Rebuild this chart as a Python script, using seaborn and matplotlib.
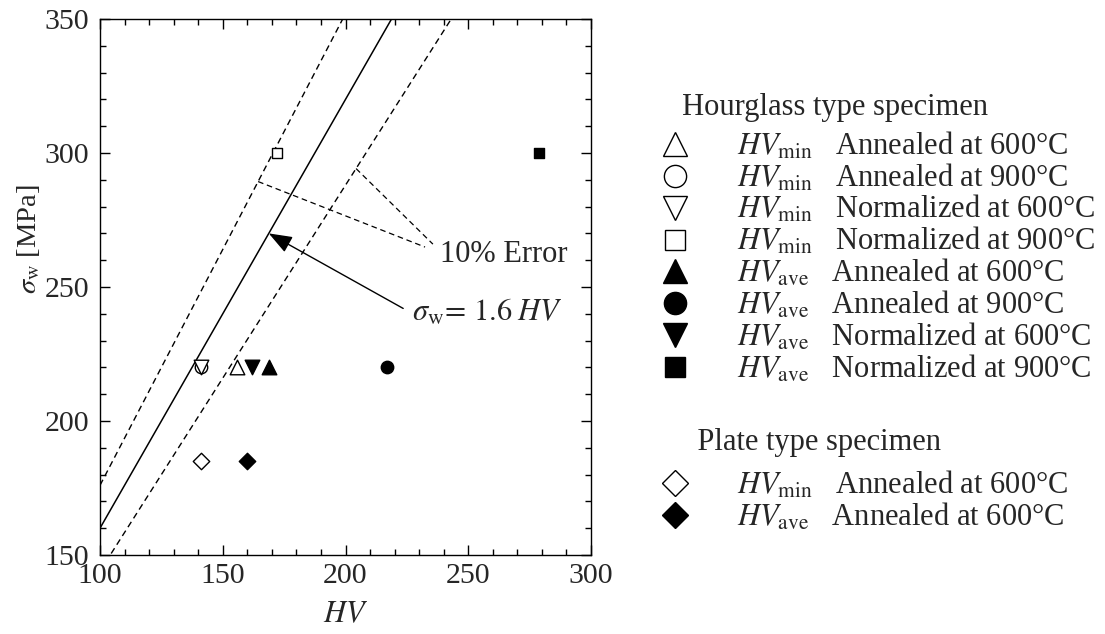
import numpy as np
import pandas as pd
import matplotlib
matplotlib.use("Agg")
import matplotlib.pyplot as plt
from matplotlib.lines import Line2D
from matplotlib.ticker import MultipleLocator
import seaborn as sns

# Fatigue limit against Vickers hardness for each heat treatment
treatment = ["Annealed at 600°C", "Annealed at 900°C",
             "Normalized at 600°C", "Normalized at 900°C"]
hourglass_hv_min = [156, 141, 141, 172]
hourglass_hv_ave = [169, 217, 162, 279]
hourglass_sigma = [220, 220, 220, 300]
hourglass_markers = ["^", "o", "v", "s"]

plate_treatment = ["Annealed at 600°C"]
plate_hv_min = [141]
plate_hv_ave = [160]
plate_sigma = [185]
plate_markers = ["D"]

# Estimation sigma_w = 1.6 HV and its +/-10 % band
coef = 1.6
band = 0.10
hv_line = np.array([100.0, 300.0])

sns.set_style("ticks")
plt.rcParams["font.family"] = ["Liberation Serif", "DejaVu Serif"]
plt.rcParams["mathtext.fontset"] = "stix"
plt.rcParams["axes.linewidth"] = 1.0

FS = 21.5
LFS = 22
fig = plt.figure(figsize=(11.05, 6.34), dpi=100)
ax = fig.add_axes([100 / 1105, 1 - 555 / 634, 491 / 1105, 536 / 634])

lines = pd.DataFrame({
    "hv": np.tile(hv_line, 3),
    "sigma": np.concatenate([coef * hv_line,
                             coef * (1 + band) * hv_line,
                             coef * (1 - band) * hv_line]),
    "kind": ["fit"] * 2 + ["upper"] * 2 + ["lower"] * 2,
})
sns.lineplot(data=lines[lines.kind == "fit"], x="hv", y="sigma",
             color="black", lw=1.1, ax=ax, legend=False)
for k in ["upper", "lower"]:
    sns.lineplot(data=lines[lines.kind == k], x="hv", y="sigma",
                 color="black", lw=1.0, ax=ax, legend=False,
                 linestyle=(0, (4.5, 3)))

size_map = {"^": 110, "v": 110, "o": 80, "s": 48, "D": 70}


def draw_points(xs, ys, mks, filled):
    for x, y, m in zip(xs, ys, mks):
        sns.scatterplot(x=[x], y=[y], marker=m, s=size_map[m],
                        facecolor="black" if filled else "white",
                        edgecolor="black", linewidth=1.0, ax=ax,
                        zorder=4, legend=False)


draw_points(hourglass_hv_min, hourglass_sigma, hourglass_markers, False)
draw_points(hourglass_hv_ave, hourglass_sigma, hourglass_markers, True)
draw_points(plate_hv_min, plate_sigma, plate_markers, False)
draw_points(plate_hv_ave, plate_sigma, plate_markers, True)

ax.set_xlim(100, 300)
ax.set_ylim(150, 350)
ax.xaxis.set_major_locator(MultipleLocator(50))
ax.xaxis.set_minor_locator(MultipleLocator(10))
ax.yaxis.set_major_locator(MultipleLocator(50))
ax.yaxis.set_minor_locator(MultipleLocator(10))
ax.tick_params(which="both", direction="in", top=True, right=True,
               labelsize=FS, width=1.0, color="black")
ax.tick_params(which="major", length=7)
ax.tick_params(which="minor", length=4)
ax.tick_params(axis="y", pad=8)
ax.tick_params(axis="x", pad=6)
for s in ax.spines.values():
    s.set_color("black")

ax.set_xlabel(r"$HV$", fontsize=LFS)
ax.set_ylabel(r"$\sigma_{\rm w}$ [MPa]", fontsize=20.5)
ax.xaxis.set_label_coords(0.5, -0.085)
ax.yaxis.set_label_coords(-0.118, 0.59)

# Arrow pointing at the estimation line
tip_hv = 168.75
ax.annotate("", xy=(tip_hv, coef * tip_hv), xytext=(223.5, 242),
            arrowprops=dict(arrowstyle="-|>,head_length=0.8,head_width=0.3",
                            color="black", lw=1.0, mutation_scale=18,
                            shrinkA=0, shrinkB=0))
ax.text(227.0, 240.5, r"$\sigma_{\rm w}\!=\,1.6\;HV$", fontsize=LFS,
        ha="left", va="center")

# Leaders to the +/-10 % band
up_hv, lo_hv = 164.4, 204.3
ax.plot([up_hv, 232.4], [coef * (1 + band) * up_hv, 264.9], color="black",
        lw=0.9, linestyle=(0, (4.5, 3)))
ax.plot([lo_hv, 235.6], [coef * (1 - band) * lo_hv, 266.0], color="black",
        lw=0.9, linestyle=(0, (4.5, 3)))
ax.text(238.5, 262.0, "10% Error", fontsize=LFS, ha="left", va="center")


def make_handle(m, filled):
    ms = {"^": 17, "v": 17, "o": 16, "s": 15, "D": 13}[m]
    return Line2D([], [], ls="none", marker=m, markersize=ms,
                  markerfacecolor="black" if filled else "white",
                  markeredgecolor="black", markeredgewidth=1.0)


def row_label(kind, text):
    sub = r"$HV_{\rm min}$" if kind == "min" else r"$HV_{\rm ave}$"
    return sub + "   " + text


h_handles, h_labels = [], []
for kind, filled in [("min", False), ("ave", True)]:
    for m, t in zip(hourglass_markers, treatment):
        h_handles.append(make_handle(m, filled))
        h_labels.append(row_label(kind, t))

p_handles, p_labels = [], []
for kind, filled in [("min", False), ("ave", True)]:
    for m, t in zip(plate_markers, plate_treatment):
        p_handles.append(make_handle(m, filled))
        p_labels.append(row_label(kind, t))

common = dict(frameon=False, fontsize=LFS, title_fontsize=LFS, borderpad=0,
              borderaxespad=0, handlelength=2.0, handletextpad=1.03,
              labelspacing=0.025, alignment="left", loc="upper left",
              bbox_transform=fig.transFigure)
leg1 = ax.legend(h_handles, h_labels, title="     Hourglass type specimen",
                 bbox_to_anchor=(644.5 / 1105, 1 - 93.5 / 634), **common)
leg1._legend_box.sep = 5.5
ax.add_artist(leg1)
leg2 = ax.legend(p_handles, p_labels, title="       Plate type specimen",
                 bbox_to_anchor=(644.5 / 1105, 1 - 428 / 634), **common)
leg2._legend_box.sep = 9.0

fig.savefig("out.png", dpi=100)
